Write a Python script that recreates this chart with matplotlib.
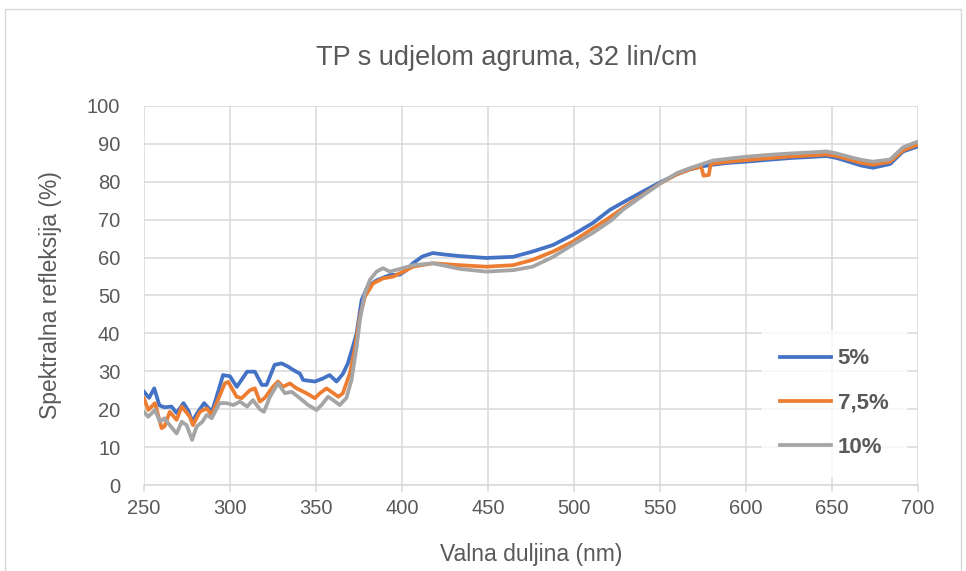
#TP s udjelom agruma - spektralna refleksija
import matplotlib.pyplot as plt
from matplotlib.patches import Rectangle

plt.rcParams['font.family'] = ['Liberation Sans', 'DejaVu Sans']

#Data
nm_5 = [250, 253, 256, 259, 262, 266, 269, 273, 276, 278, 281, 285, 289.5, 292, 296, 300,
        304, 310, 314.5, 318.6, 321.3, 326, 330, 334, 337, 340.7, 342.6, 349.4, 354, 358,
        362, 365.7, 368.6, 371.5, 373.7, 376.6, 380, 385.3, 393, 398.8, 402.7, 406.4, 412,
        418, 425, 433.7, 449, 464.7, 476, 487.8, 499.4, 511, 521, 530, 540, 550, 560,
        567.6, 575, 580.8, 590, 600, 613, 627, 640, 647, 652.6, 660, 667, 674, 684, 691.5, 700]
r_5 = [24.6, 23, 25.5, 21, 20.5, 20.7, 19, 21.6, 19.5, 16.7, 19, 21.6, 19.3, 22.9, 29, 28.7,
       25.9, 29.9, 29.9, 26.4, 26.4, 31.7, 32.1, 31.2, 30.3, 29.4, 27.7, 27.3, 28.1, 29,
       27.3, 29.3, 32.1, 36.5, 40, 48.8, 52.3, 54, 55.4, 55.5, 56.7, 58.5, 60.3,
       61.2, 60.8, 60.4, 59.9, 60.2, 61.6, 63.3, 66, 69.1, 72.6, 74.9, 77.4, 79.8, 82,
       83.3, 84.1, 84.5, 85, 85.3, 85.8, 86.3, 86.6, 86.8, 86.3, 85.3, 84.3, 83.7, 84.7, 88, 89.3]

nm_75 = [250, 252.5, 256.4, 258.5, 260.3, 262, 265, 269, 272, 276.7, 278.5, 282.5, 286.5,
         289.4, 293, 297, 299, 303.9, 306.8, 311.6, 314.5, 317.4, 320.3, 325, 328, 330.8,
         334.9, 338.8, 344.6, 349.4, 352.3, 356.2, 359, 363, 365.7, 367, 369.8, 372.7,
         375.6, 378.5, 383.3, 389, 395, 399, 402.7, 406.4, 418, 433.7, 449, 464.7, 476,
         488, 499.4, 511, 518.6, 530, 540, 550, 560, 567.6, 574, 575.5, 578.5, 579.5, 581,
         590, 600, 613, 627, 640, 647, 652.6, 660, 667, 674, 684, 691.5, 700]
r_75 = [22.9, 19.8, 21.6, 18, 15, 15.5, 19.3, 17.2, 20.7, 18, 15.8, 19.3, 20.2,
        18.5, 22.4, 26.8, 27.2, 23.3, 22.9, 25, 25.5, 22, 23, 25.9, 27.3, 25.9,
        26.8, 25.5, 24.2, 22.9, 24.2, 25.5, 24.6, 23.3, 24.2, 25.9, 29.5, 36,
        44.4, 49.7, 53.2, 54.5, 55, 55.9, 56.7, 57.6, 58.5, 58, 57.6, 58, 59.4,
        61.6, 64.2, 67.7, 69.9, 73.5, 76.5, 79.5, 82, 83.3, 84, 81.6, 81.8, 84.4, 84.8,
        85.3, 85.7, 86.2, 86.7, 87, 87.2, 86.8, 85.9, 85, 84.5, 85.3, 88.3, 89.8]

nm_10 = [250, 252.5, 256.4, 259.3, 262, 265, 269, 272, 274.8, 278, 280.6, 284, 286.5,
         289.4, 294, 298, 302, 305.8, 310, 313.4, 317.4, 319.8, 323.3, 328, 332, 335.9,
         340.7, 345.5, 350.4, 353.3, 357.1, 360, 363.9, 367.8, 370.7, 373.7, 375.6, 378.5,
         381.4, 385.3, 389, 393, 398.8, 406.6, 418, 434, 449, 465, 476, 488, 499, 511,
         522, 528.5, 540, 550, 560, 567.6, 580.8, 590, 600, 613, 627, 640, 647, 652.6,
         660, 667, 674, 684, 691.5, 700]
r_10 = [19.3, 18, 19.8, 16.7, 17.6, 15.8, 13.6, 16.7, 15.8, 11.9, 15.4, 16.7, 18.5,
        17.6, 21.6, 21.6, 21.1, 22, 20.7, 22.4, 20, 19.3, 23.3, 26.8, 24.2, 24.6,
        22.9, 21.1, 19.8, 21.1, 23.3, 22.4, 21.1, 23, 27.7, 36.5, 43.5, 50.6,
        54.1, 56.3, 57.2, 56.3, 57, 58, 58.5, 57, 56.3, 56.7, 57.6, 60.2, 63.3, 66.5,
        69.9, 72.6, 76.3, 79.5, 82.3, 83.6, 85.6, 86.1, 86.6, 87.1, 87.5, 87.8, 88, 87.5,
        86.6, 85.8, 85.3, 85.9, 89.1, 90.6]

labels = ['5%', '7,5%', '10%']
colors = ['#4472C4', '#ED7D31', '#A5A5A5']
txt_col = '#595959'
grid_col = '#D9D9D9'

fig = plt.figure(figsize=(9.66, 5.71), dpi=100)
ax = fig.add_axes([0.149, 0.1506, 0.801, 0.6638])

#outer chart border
fig.patches.append(Rectangle((0.005, -0.01), 0.99, 0.995, transform=fig.transFigure,
                             fill=False, edgecolor=grid_col, lw=1.0))

ax.plot(nm_5, r_5, color=colors[0], lw=2.7, label=labels[0], solid_joinstyle='round')
ax.plot(nm_75, r_75, color=colors[1], lw=2.7, label=labels[1], solid_joinstyle='round')
ax.plot(nm_10, r_10, color=colors[2], lw=2.7, label=labels[2], solid_joinstyle='round')

ax.set_xlim(250, 700)
ax.set_ylim(0, 100)
ax.set_xticks(range(250, 701, 50))
ax.set_yticks(range(0, 101, 10))
ax.grid(True, color=grid_col, lw=1.1)
ax.set_axisbelow(True)
for s in ['top', 'right', 'left']:
    ax.spines[s].set_visible(False)
ax.spines['bottom'].set_color(grid_col)
ax.spines['bottom'].set_linewidth(1.1)
ax.tick_params(axis='x', colors=grid_col, labelcolor=txt_col, labelsize=14.5, length=5, width=1.1, pad=5)
ax.tick_params(axis='y', length=0, labelcolor=txt_col, labelsize=14.5, pad=17)

ax.set_xlabel('Valna duljina (nm)', fontsize=16.5, color=txt_col, labelpad=18)
ax.set_ylabel('Spektralna refleksija (%)', fontsize=16.5, color=txt_col, labelpad=18)
fig.text(0.524, 0.898, 'TP s udjelom agruma, 32 lin/cm', ha='center', va='center',
         fontsize=19.5, color=txt_col)

leg = ax.legend(loc='center', bbox_to_anchor=(0.892, 0.216), frameon=True, fancybox=False,
                handlelength=2.3, labelspacing=1.05, handletextpad=0.3, borderpad=0.8,
                prop={'size': 16, 'weight': 'bold'})
leg.get_frame().set_facecolor('white')
leg.get_frame().set_edgecolor('white')
for t in leg.get_texts():
    t.set_color(txt_col)

plt.savefig('out.png', dpi=100)
